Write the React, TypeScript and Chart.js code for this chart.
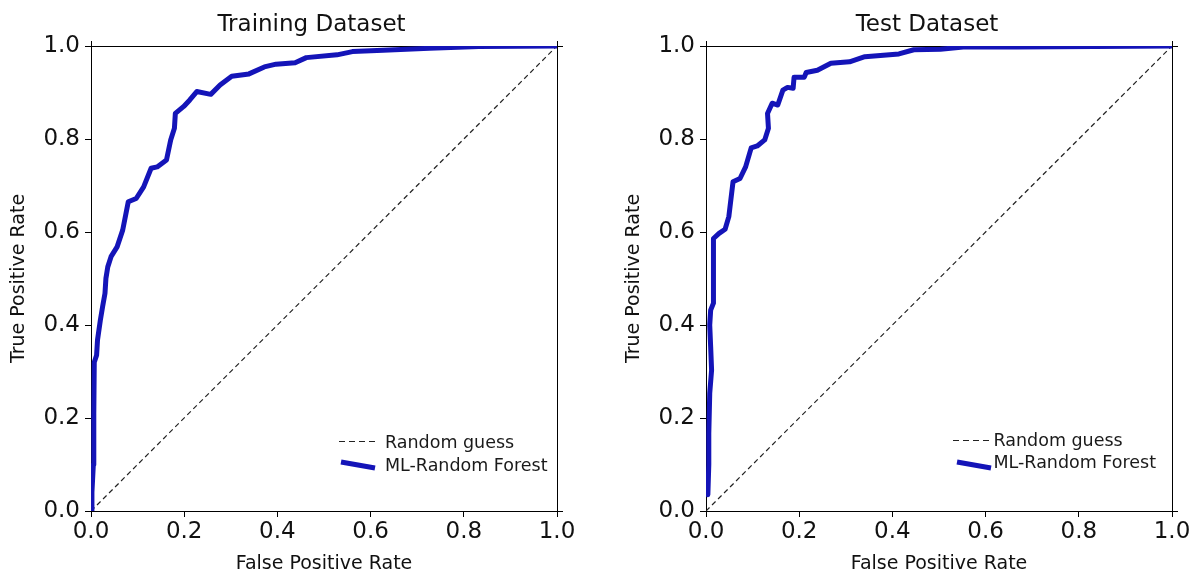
import React, { useEffect, useRef } from "react";
import { Chart, registerables } from "chart.js";
Chart.register(...registerables);

const FONT = "'DejaVu Sans', Verdana, sans-serif";

const PANEL_TITLES = ["Training Dataset", "Test Dataset"];
const X_AXIS_TITLE = "False Positive Rate";
const Y_AXIS_TITLE = "True Positive Rate";
const AXIS_TICKS = [0, 0.2, 0.4, 0.6, 0.8, 1.0];
const GUESS_LABEL = "Random guess";
const MODEL_LABEL = "ML-Random Forest";

const GUESS_FPR = [0, 1];
const GUESS_TPR = [0, 1];

const TRAIN_FPR = [0, 0.002, 0.005, 0.006, 0.007, 0.012, 0.014, 0.02, 0.025, 0.03, 0.032, 0.036, 0.043, 0.056, 0.068, 0.08, 0.097, 0.113, 0.129, 0.142, 0.162, 0.171, 0.179, 0.181, 0.199, 0.212, 0.227, 0.257, 0.277, 0.302, 0.339, 0.372, 0.397, 0.438, 0.462, 0.528, 0.561, 0.627, 0.726, 0.832, 1.0];
const TRAIN_TPR = [0, 0.04, 0.1, 0.21, 0.32, 0.335, 0.368, 0.41, 0.44, 0.468, 0.5, 0.525, 0.547, 0.568, 0.604, 0.665, 0.672, 0.697, 0.737, 0.74, 0.755, 0.798, 0.823, 0.855, 0.87, 0.884, 0.902, 0.896, 0.916, 0.935, 0.94, 0.955, 0.961, 0.964, 0.975, 0.981, 0.988, 0.991, 0.995, 0.999, 1.0];

const TEST_FPR = [0.004, 0.006, 0.006, 0.008, 0.012, 0.01, 0.008, 0.01, 0.016, 0.016, 0.016, 0.028, 0.041, 0.049, 0.058, 0.073, 0.085, 0.097, 0.11, 0.126, 0.134, 0.132, 0.142, 0.154, 0.165, 0.175, 0.187, 0.189, 0.211, 0.215, 0.239, 0.268, 0.308, 0.341, 0.414, 0.446, 0.503, 0.552, 0.666, 1.0];
const TEST_TPR = [0.035, 0.1, 0.167, 0.253, 0.303, 0.353, 0.4, 0.432, 0.447, 0.497, 0.586, 0.597, 0.606, 0.633, 0.708, 0.715, 0.74, 0.781, 0.785, 0.798, 0.823, 0.855, 0.877, 0.873, 0.905, 0.911, 0.909, 0.933, 0.933, 0.943, 0.948, 0.963, 0.966, 0.977, 0.983, 0.992, 0.993, 0.998, 0.998, 1.0];

const PANELS = [
  {
    title: PANEL_TITLES[0], fpr: TRAIN_FPR, tpr: TRAIN_TPR,
    left: 0, width: 600, yAxisWidth: 91, padRight: 43, yTitlePad: 8, titleX: 311.5,
    legend: { dashX0: 339, dashX1: 376, dashY: 441, lineX0: 341, lineY0: 462, lineX1: 375, lineY1: 468, textX: 385, textY0: 448, textY1: 471 },
  },
  {
    title: PANEL_TITLES[1], fpr: TEST_FPR, tpr: TEST_TPR,
    left: 600, width: 593, yAxisWidth: 106, padRight: 21, yTitlePad: 22.6, titleX: 327,
    legend: { dashX0: 353, dashX1: 390, dashY: 440, lineX0: 357, lineY0: 462, lineX1: 391, lineY1: 468, textX: 393.5, textY0: 446, textY1: 468 },
  },
];

const BLUE = "#1414b8";

const framePlugin = {
  id: "frame",
  beforeDatasetsDraw(chart: any) {
    const { ctx, chartArea } = chart;
    const { left, right, top, bottom } = chartArea;
    ctx.save();
    ctx.strokeStyle = "#000";
    ctx.lineWidth = 1;
    ctx.beginPath();
    ctx.moveTo(Math.round(left) + 0.5, top - 5);
    ctx.lineTo(Math.round(left) + 0.5, top);
    ctx.moveTo(left, Math.round(top) + 0.5);
    ctx.lineTo(right + 6, Math.round(top) + 0.5);
    ctx.moveTo(Math.round(right) + 0.5, top - 5);
    ctx.lineTo(Math.round(right) + 0.5, bottom);
    ctx.moveTo(right, Math.round(bottom) + 0.5);
    ctx.lineTo(right + 6, Math.round(bottom) + 0.5);
    ctx.stroke();
    ctx.restore();
  },
};

const titlePlugin = {
  id: "panelTitle",
  afterDraw(chart: any, _args: any, opts: any) {
    const ctx = chart.ctx;
    ctx.save();
    ctx.font = `23px ${FONT}`;
    ctx.fillStyle = "#111";
    ctx.textAlign = "center";
    ctx.textBaseline = "alphabetic";
    ctx.fillText(opts.text, opts.x, opts.y);
    ctx.restore();
  },
};

const legendPlugin = {
  id: "rocLegend",
  afterDatasetsDraw(chart: any, _args: any, o: any) {
    const ctx = chart.ctx;
    const ds = chart.data.datasets;
    ctx.save();
    ctx.strokeStyle = ds[0].borderColor;
    ctx.lineWidth = 1.2;
    ctx.setLineDash([6, 4]);
    ctx.beginPath();
    ctx.moveTo(o.dashX0, o.dashY + 0.5);
    ctx.lineTo(o.dashX1, o.dashY + 0.5);
    ctx.stroke();
    ctx.setLineDash([]);
    ctx.strokeStyle = ds[1].borderColor;
    ctx.lineWidth = 5;
    ctx.beginPath();
    ctx.moveTo(o.lineX0, o.lineY0);
    ctx.lineTo(o.lineX1, o.lineY1);
    ctx.stroke();
    ctx.font = `17.5px ${FONT}`;
    ctx.fillStyle = "#1a1a1a";
    ctx.textAlign = "left";
    ctx.textBaseline = "alphabetic";
    ctx.fillText(ds[0].label, o.textX, o.textY0);
    ctx.fillText(ds[1].label, o.textX, o.textY1);
    ctx.restore();
  },
};

function RocPanel({ panel }: { panel: any }) {
  const ref = useRef<HTMLCanvasElement>(null);
  useEffect(() => {
    const tickFont = { family: FONT, size: 23 };
    const commonScale = {
      type: "linear",
      min: 0,
      max: 1,
      afterBuildTicks: (s: any) => {
        s.ticks = AXIS_TICKS.map((v) => ({ value: v }));
      },
      ticks: {
        autoSkip: false,
        maxRotation: 0,
        color: "#111",
        font: tickFont,
        callback: (v: any) => Number(v).toFixed(1),
      },
      grid: { drawOnChartArea: false, drawTicks: true, tickLength: 6, color: "#000", lineWidth: 1 },
      border: { display: true, color: "#000", width: 1 },
    };
    const chart = new Chart(ref.current as HTMLCanvasElement, {
      type: "line",
      data: {
        datasets: [
          {
            label: GUESS_LABEL,
            data: GUESS_FPR.map((x, i) => ({ x, y: GUESS_TPR[i] })),
            borderColor: "#222222",
            borderWidth: 1.2,
            borderDash: [5, 3.5],
            pointRadius: 0,
            fill: false,
            order: 2,
          },
          {
            label: MODEL_LABEL,
            data: panel.fpr.map((x: number, i: number) => ({ x, y: panel.tpr[i] })),
            borderColor: BLUE,
            borderWidth: 5,
            pointRadius: 0,
            fill: false,
            tension: 0,
            borderJoinStyle: "round",
            borderCapStyle: "round",
            order: 1,
          },
        ],
      },
      options: {
        animation: false,
        responsive: true,
        maintainAspectRatio: false,
        devicePixelRatio: 1,
        layout: { padding: { top: 46, right: panel.padRight, bottom: 0, left: 0 } },
        plugins: {
          legend: { display: false },
          title: { display: false },
          tooltip: { enabled: false },
          panelTitle: { text: panel.title, x: panel.titleX, y: 31 },
          rocLegend: panel.legend,
        } as any,
        scales: {
          x: {
            ...commonScale,
            position: "bottom",
            ticks: { ...commonScale.ticks, padding: 1 },
            afterFit: (s: any) => {
              s.height = 64;
            },
            title: {
              display: true,
              text: X_AXIS_TITLE,
              color: "#111",
              font: { family: FONT, size: 19 },
              padding: { top: 0, bottom: 0 },
            },
          },
          y: {
            ...commonScale,
            position: "left",
            ticks: { ...commonScale.ticks, padding: 5 },
            afterFit: (s: any) => {
              s.width = panel.yAxisWidth;
            },
            title: {
              display: true,
              text: Y_AXIS_TITLE,
              color: "#111",
              font: { family: FONT, size: 19 },
              padding: { top: panel.yTitlePad, bottom: 0 },
            },
          },
        } as any,
      },
      plugins: [framePlugin, titlePlugin, legendPlugin],
    } as any);
    return () => chart.destroy();
  }, [panel]);
  return (
    <div style={{ position: "absolute", left: panel.left, top: 0, width: panel.width, height: 575 }}>
      <canvas ref={ref} />
    </div>
  );
}

export default function App() {
  return (
    <div style={{ position: "fixed", left: 0, top: 0, width: 1193, height: 575, background: "#fff", overflow: "hidden" }}>
      {PANELS.map((p, i) => (
        <RocPanel key={i} panel={p} />
      ))}
    </div>
  );
}
